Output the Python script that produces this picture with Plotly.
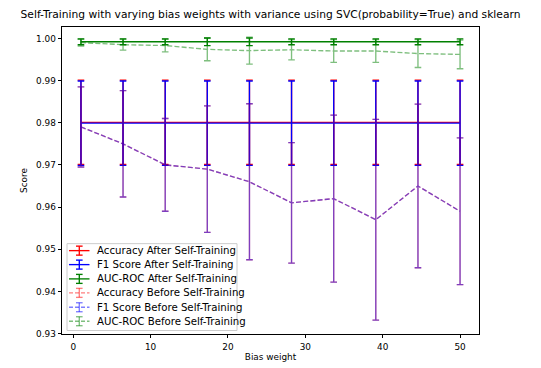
import plotly.graph_objects as go

# ---- data ----
bias_weights = [1, 6.44, 11.89, 17.33, 22.78, 28.22, 33.67, 39.11, 44.56, 50]

acc_after = [0.9801] * 10
acc_after_err = [0.01] * 10
f1_after = [0.9799] * 10
f1_after_err = [0.01] * 10
auc_after = [0.9992] * 10
auc_after_err = [0.0007, 0.0007, 0.0007, 0.0009, 0.0009, 0.0007, 0.0007, 0.0007, 0.0007, 0.0007]

acc_before = [0.979, 0.975, 0.970, 0.969, 0.966, 0.961, 0.962, 0.957, 0.965, 0.959]
acc_before_err = [0.0095, 0.0126, 0.011, 0.015, 0.0185, 0.0143, 0.0198, 0.0238, 0.0194, 0.0174]
f1_before = list(acc_before)
f1_before_err = list(acc_before_err)
auc_before = [0.9990, 0.9985, 0.9983, 0.9974, 0.9971, 0.9973, 0.9970, 0.9970, 0.9964, 0.9962]
auc_before_err = [0.0008, 0.0013, 0.0015, 0.0027, 0.0032, 0.0024, 0.0027, 0.0027, 0.0033, 0.0034]

series_names = ["Accuracy After Self-Training", "F1 Score After Self-Training",
                "AUC-ROC After Self-Training", "Accuracy Before Self-Training",
                "F1 Score Before Self-Training", "AUC-ROC Before Self-Training"]
series_vals = [acc_after, f1_after, auc_after, acc_before, f1_before, auc_before]
series_errs = [acc_after_err, f1_after_err, auc_after_err, acc_before_err, f1_before_err, auc_before_err]
colors = ["#ff0000", "#0000ff", "#008000", "#ff0000", "#0000ff", "#008000"]
dashes = ["solid", "solid", "solid", "5px,2.2px", "5px,2.2px", "5px,2.2px"]
opacities = [1.0, 1.0, 1.0, 0.5, 0.5, 0.5]

FONT = "DejaVu Sans"
W, H = 541, 368
L, R, T, B = 62, 62, 27, 33.5
PW, PH = W - L - R, H - T - B


def px_x(px):
    return (px - L) / PW


def px_y(py):
    return (H - B - py) / PH


fig = go.Figure()
for name, ys, errs, color, dash, op in zip(series_names, series_vals, series_errs, colors, dashes, opacities):
    fig.add_trace(go.Scatter(
        x=bias_weights, y=ys, name=name, mode="lines",
        line=dict(color=color, width=1.35, dash=dash),
        opacity=op, showlegend=False,
        error_y=dict(type="data", array=errs, visible=True, color=color,
                     thickness=1.35, width=3.3),
    ))

# ---- legend (matplotlib-style box with errorbar handles) ----
shapes = []
annotations = []
bx0, bx1, by0, by1 = 67, 237, 244, 331
shapes.append(dict(type="rect", xref="paper", yref="paper",
                   x0=px_x(bx0), x1=px_x(bx1), y0=px_y(by1), y1=px_y(by0),
                   fillcolor="rgba(255,255,255,0.8)", line=dict(color="#cccccc", width=1),
                   layer="above"))
entry_y = [251, 265, 279.3, 293.3, 307.7, 321.7]
for name, color, dash, op, ey in zip(series_names, colors, dashes, opacities, entry_y):
    ldash = "solid" if dash == "solid" else "4px,2px"
    common = dict(xref="paper", yref="paper", opacity=op, layer="above")
    shapes.append(dict(type="line", x0=px_x(69), x1=px_x(89.5), y0=px_y(ey), y1=px_y(ey),
                       line=dict(color=color, width=1.35, dash=ldash), **common))
    shapes.append(dict(type="line", x0=px_x(79.3), x1=px_x(79.3), y0=px_y(ey - 4.5), y1=px_y(ey + 4.5),
                       line=dict(color=color, width=1.35), **common))
    for cy in (ey - 4.5, ey + 4.5):
        shapes.append(dict(type="line", x0=px_x(76), x1=px_x(82.6), y0=px_y(cy), y1=px_y(cy),
                           line=dict(color=color, width=1.35), **common))
    annotations.append(dict(text=name, xref="paper", yref="paper", x=px_x(95), y=px_y(ey),
                            xanchor="left", yanchor="middle", showarrow=False,
                            font=dict(family=FONT, size=10.2, color="black")))

fig.update_layout(
    width=W, height=H,
    margin=dict(l=L, r=R, t=T, b=B, autoexpand=False),
    paper_bgcolor="white", plot_bgcolor="white",
    font=dict(family=FONT, size=8.9, color="black"),
    title=dict(text="Self-Training with varying bias weights with variance using SVC(probability=True) and sklearn",
               x=0.5, xref="paper", xanchor="center",
               y=1 - 14 / 368, yref="container", yanchor="middle",
               font=dict(family=FONT, size=10.7, color="black")),
    showlegend=False,
    shapes=shapes, annotations=annotations,
)
fig.update_xaxes(
    range=[-1.45, 52.45], tickvals=[0, 10, 20, 30, 40, 50],
    ticks="outside", ticklen=3.5, tickwidth=0.8, tickcolor="black",
    ticklabelstandoff=1, automargin=False,
    showline=True, linecolor="black", linewidth=0.8, mirror=True,
    showgrid=False, zeroline=False,
    title=dict(text="Bias weight", font=dict(family=FONT, size=8.9), standoff=2),
)
fig.update_yaxes(
    range=[0.9299, 1.0027], tickvals=[0.93, 0.94, 0.95, 0.96, 0.97, 0.98, 0.99, 1.00],
    tickformat=".2f", automargin=False,
    ticks="outside", ticklen=3.5, tickwidth=0.8, tickcolor="black",
    showline=True, linecolor="black", linewidth=0.8, mirror=True,
    showgrid=False, zeroline=False,
    title=dict(text="Score", font=dict(family=FONT, size=8.9), standoff=6),
)

fig.write_html("out.html")
